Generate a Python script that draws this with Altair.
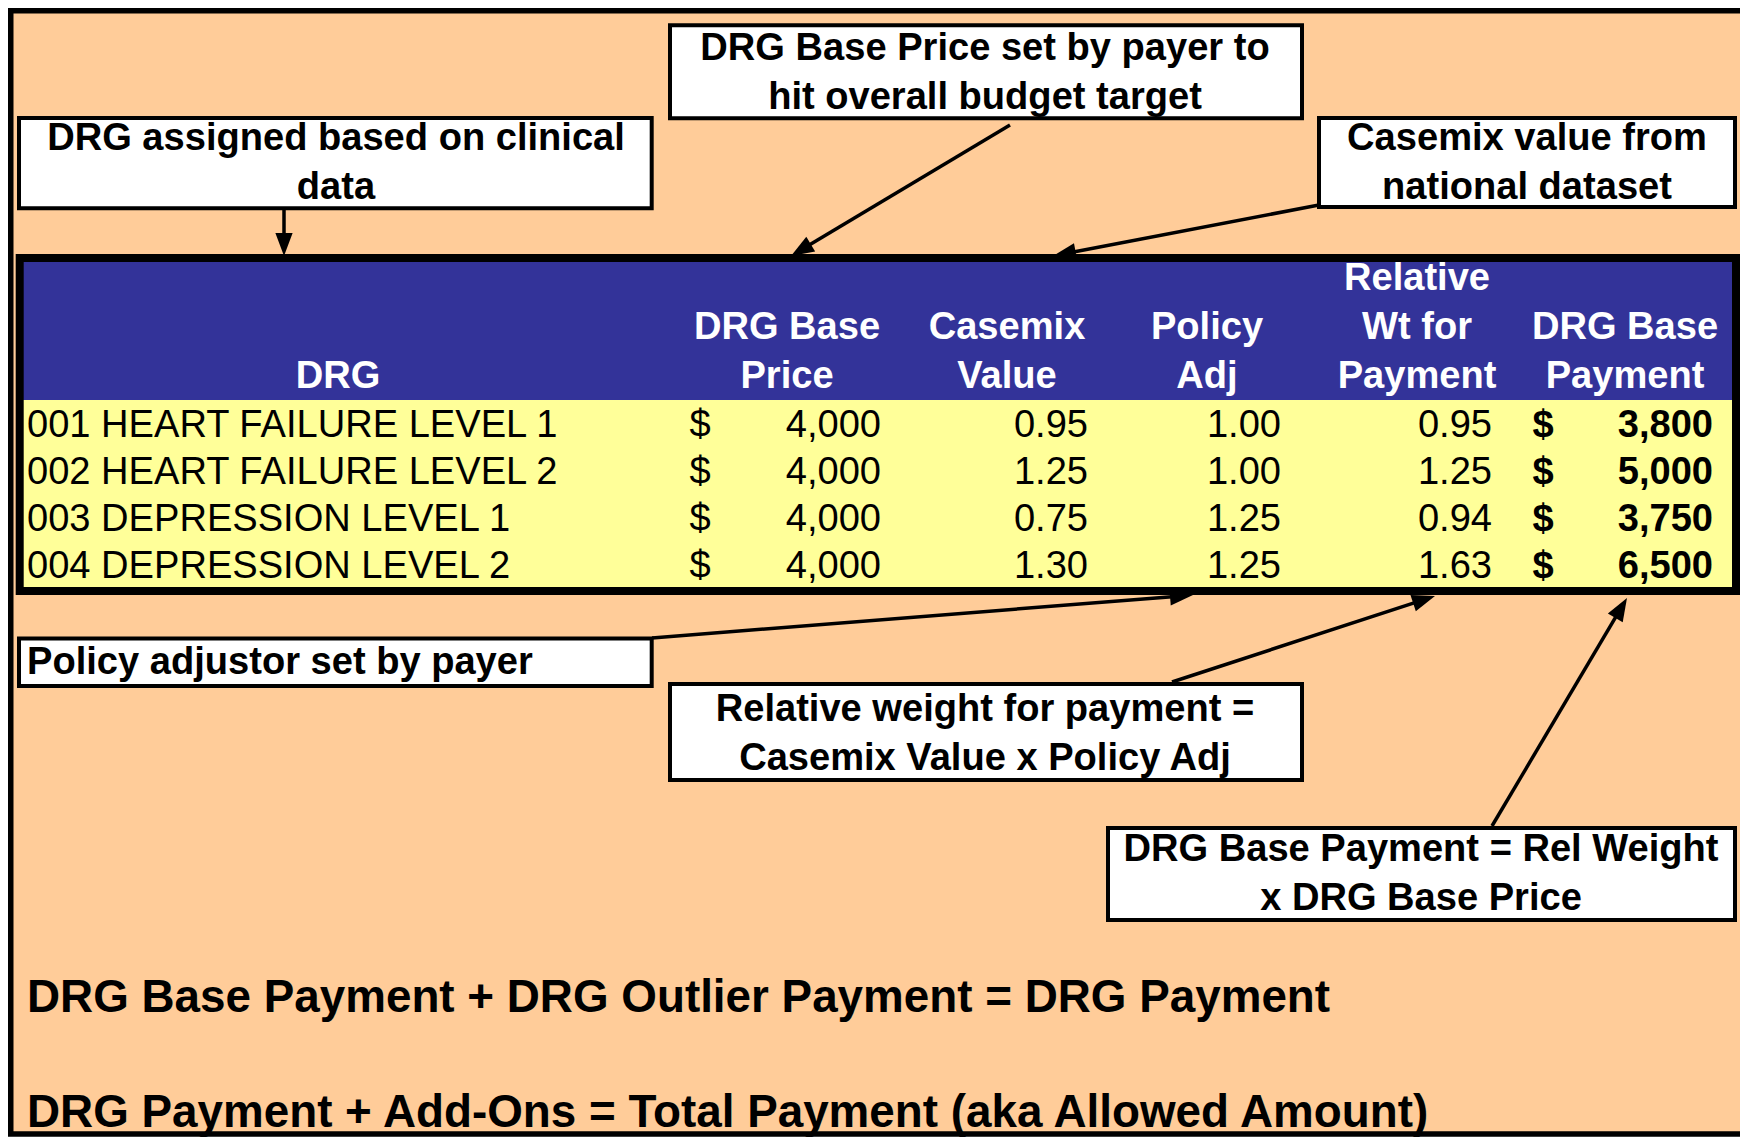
import math
import altair as alt
import pandas as pd

# ---------------- data ----------------
drg_names = ["001 HEART FAILURE LEVEL 1", "002 HEART FAILURE LEVEL 2",
             "003 DEPRESSION LEVEL 1", "004 DEPRESSION LEVEL 2"]
base_price = [4000, 4000, 4000, 4000]
casemix = [0.95, 1.25, 0.75, 1.30]
policy_adj = [1.00, 1.00, 1.25, 1.25]
rel_wt = [0.95, 1.25, 0.94, 1.63]
base_payment = [3800, 5000, 3750, 6500]

header_labels = [["DRG"], ["DRG Base", "Price"], ["Casemix", "Value"],
                 ["Policy", "Adj"], ["Relative", "Wt for", "Payment"],
                 ["DRG Base", "Payment"]]

note_texts = [
    ["DRG assigned based on clinical", "data"],
    ["DRG Base Price set by payer to", "hit overall budget target"],
    ["Casemix value from", "national dataset"],
    ["Policy adjustor set by payer"],
    ["Relative weight for payment =", "Casemix Value x Policy Adj"],
    ["DRG Base Payment = Rel Weight", "x DRG Base Price"],
]
formula_lines = ["DRG Base Payment + DRG Outlier Payment = DRG Payment",
                 "DRG Payment + Add-Ons = Total Payment (aka Allowed Amount)"]

# ---------------- layout (reference pixel units) ----------------
W, H = 1748, 1145
frame_box = (10.75, 10.75, 1765, 1134)
table_box = (19.7, 258, 1736, 591)
header_bottom = 400
row_top, row_h = 403, 46.8
col_name_x = 27
col_dollar1_x = 700
col_right = [881, 1088, 1281, 1492, 1713]
col_dollar2_x = 1543
header_cx = [338, 787, 1007, 1207, 1417, 1625]
header_line_y = [279, 328, 377]
note_boxes = [(19, 118, 651.7, 208.3), (670, 25.3, 1302, 118.3), (1319, 118, 1735, 207),
              (19, 638.5, 651.7, 686), (670, 684, 1302, 780), (1108, 828, 1735, 920)]
note_text_x = [336, 985, 1527, 27, 985, 1421]
note_align = ["center", "center", "center", "left", "center", "center"]
note_first_y = [138.5, 49, 138.5, 663, 710, 850]
note_line_h = 49
formula_x = 27
formula_y = [998, 1113]
arrows = [((284, 208), (284, 256)),
          ((1010, 125), (791, 256)),
          ((1319, 205), (1053, 256)),
          ((652, 638), (1193, 595)),
          ((1172, 682), (1435, 596)),
          ((1492, 826), (1627, 598))]
head_len = 23

PEACH = "#FFCC99"
BLUE = "#333399"
YELLOW = "#FFFF99"
FONT = "Liberation Sans"
FS = 38.1
FS_BIG = 45.8

xs = alt.Scale(domain=[0, W], nice=False, zero=False)
ys = alt.Scale(domain=[0, H], reverse=True, nice=False, zero=False)


def rect_layer(rows, **mk):
    df = pd.DataFrame(rows, columns=["x", "y", "x2", "y2"])
    return alt.Chart(df).mark_rect(**mk).encode(
        x=alt.X("x:Q", scale=xs, axis=None), x2="x2:Q",
        y=alt.Y("y:Q", scale=ys, axis=None), y2="y2:Q")


def text_layer(df, align, weight, size, color="black"):
    return alt.Chart(df).mark_text(
        align=align, baseline="middle", font=FONT, fontWeight=weight,
        fontSize=size, color=color).encode(
        x=alt.X("x:Q", scale=xs, axis=None),
        y=alt.Y("y:Q", scale=ys, axis=None),
        text="t:N")


layers = []
# frame
layers.append(rect_layer([frame_box], fill=PEACH, stroke="black", strokeWidth=5.5))
# table fills
tx0, ty0, tx1, ty1 = table_box
layers.append(rect_layer([(tx0, ty0, tx1, header_bottom)], fill=BLUE))
layers.append(rect_layer([(tx0, header_bottom, tx1, ty1)], fill=YELLOW))
layers.append(rect_layer([table_box], fillOpacity=0, stroke="black", strokeWidth=8))

# arrows
arr_lines, arr_heads = [], []
for (x0, y0), (x1, y1) in arrows:
    dx, dy = x1 - x0, y1 - y0
    d = math.hypot(dx, dy)
    ux, uy = dx / d, dy / d
    cx, cy = x1 - ux * head_len / 2, y1 - uy * head_len / 2
    arr_lines.append({"x": x0, "y": y0, "x2": cx, "y2": cy})
    arr_heads.append({"x": cx, "y": cy,
                      "a": math.degrees(math.atan2(dx, -dy)) % 360})
layers.append(alt.Chart(pd.DataFrame(arr_lines)).mark_rule(
    color="black", strokeWidth=3.5).encode(
    x=alt.X("x:Q", scale=xs, axis=None), x2="x2:Q",
    y=alt.Y("y:Q", scale=ys, axis=None), y2="y2:Q"))
layers.append(alt.Chart(pd.DataFrame(arr_heads)).mark_point(
    shape="M0,-1L0.75,1L-0.75,1Z", filled=True, color="black", opacity=1,
    size=(head_len ** 2), strokeWidth=0).encode(
    x=alt.X("x:Q", scale=xs, axis=None),
    y=alt.Y("y:Q", scale=ys, axis=None),
    angle=alt.Angle("a:Q", scale=None)))

# note boxes
layers.append(rect_layer(note_boxes, fill="white", stroke="black", strokeWidth=4))

# header texts
hdr = []
for cx, lines in zip(header_cx, header_labels):
    ys_ = header_line_y[len(header_line_y) - len(lines):]
    for t, yy in zip(lines, ys_):
        hdr.append({"x": cx, "y": yy, "t": t})
layers.append(text_layer(pd.DataFrame(hdr), "center", "bold", FS, "white"))

# body
row_y = [row_top + (i + 0.5) * row_h for i in range(len(drg_names))]
names_df = pd.DataFrame({"x": col_name_x, "y": row_y, "t": drg_names})
dollar1_df = pd.DataFrame({"x": col_dollar1_x, "y": row_y, "t": ["$"] * len(row_y)})
num_rows = []
for i, yy in enumerate(row_y):
    vals = [f"{base_price[i]:,}", f"{casemix[i]:.2f}", f"{policy_adj[i]:.2f}",
            f"{rel_wt[i]:.2f}"]
    for xr, v in zip(col_right[:4], vals):
        num_rows.append({"x": xr, "y": yy, "t": v})
pay_df = pd.DataFrame({"x": col_right[4], "y": row_y,
                       "t": [f"{v:,}" for v in base_payment]})
dollar2_df = pd.DataFrame({"x": col_dollar2_x, "y": row_y, "t": ["$"] * len(row_y)})
layers.append(text_layer(names_df, "left", "normal", FS))
layers.append(text_layer(dollar1_df, "center", "normal", FS))
layers.append(text_layer(pd.DataFrame(num_rows), "right", "normal", FS))
layers.append(text_layer(pay_df, "right", "bold", FS))
layers.append(text_layer(dollar2_df, "center", "bold", FS))

# notes
for align in ["center", "left"]:
    rows = []
    for i, lines in enumerate(note_texts):
        if note_align[i] != align:
            continue
        for j, t in enumerate(lines):
            rows.append({"x": note_text_x[i], "y": note_first_y[i] + j * note_line_h, "t": t})
    layers.append(text_layer(pd.DataFrame(rows), align, "bold", FS))

# formulas
layers.append(text_layer(pd.DataFrame({"x": formula_x, "y": formula_y, "t": formula_lines}),
                         "left", "bold", FS_BIG))

# page has an 8px margin: negative padding lets reference pixel (x, y) land on page pixel (x, y)
chart = alt.layer(*layers).properties(
    width=W, height=H, autosize="none", background="white",
    padding={"left": -8, "top": -8, "right": -8, "bottom": -8}
).configure_view(stroke=None)

chart.save("out.html", embed_options={"renderer": "svg", "actions": False})
